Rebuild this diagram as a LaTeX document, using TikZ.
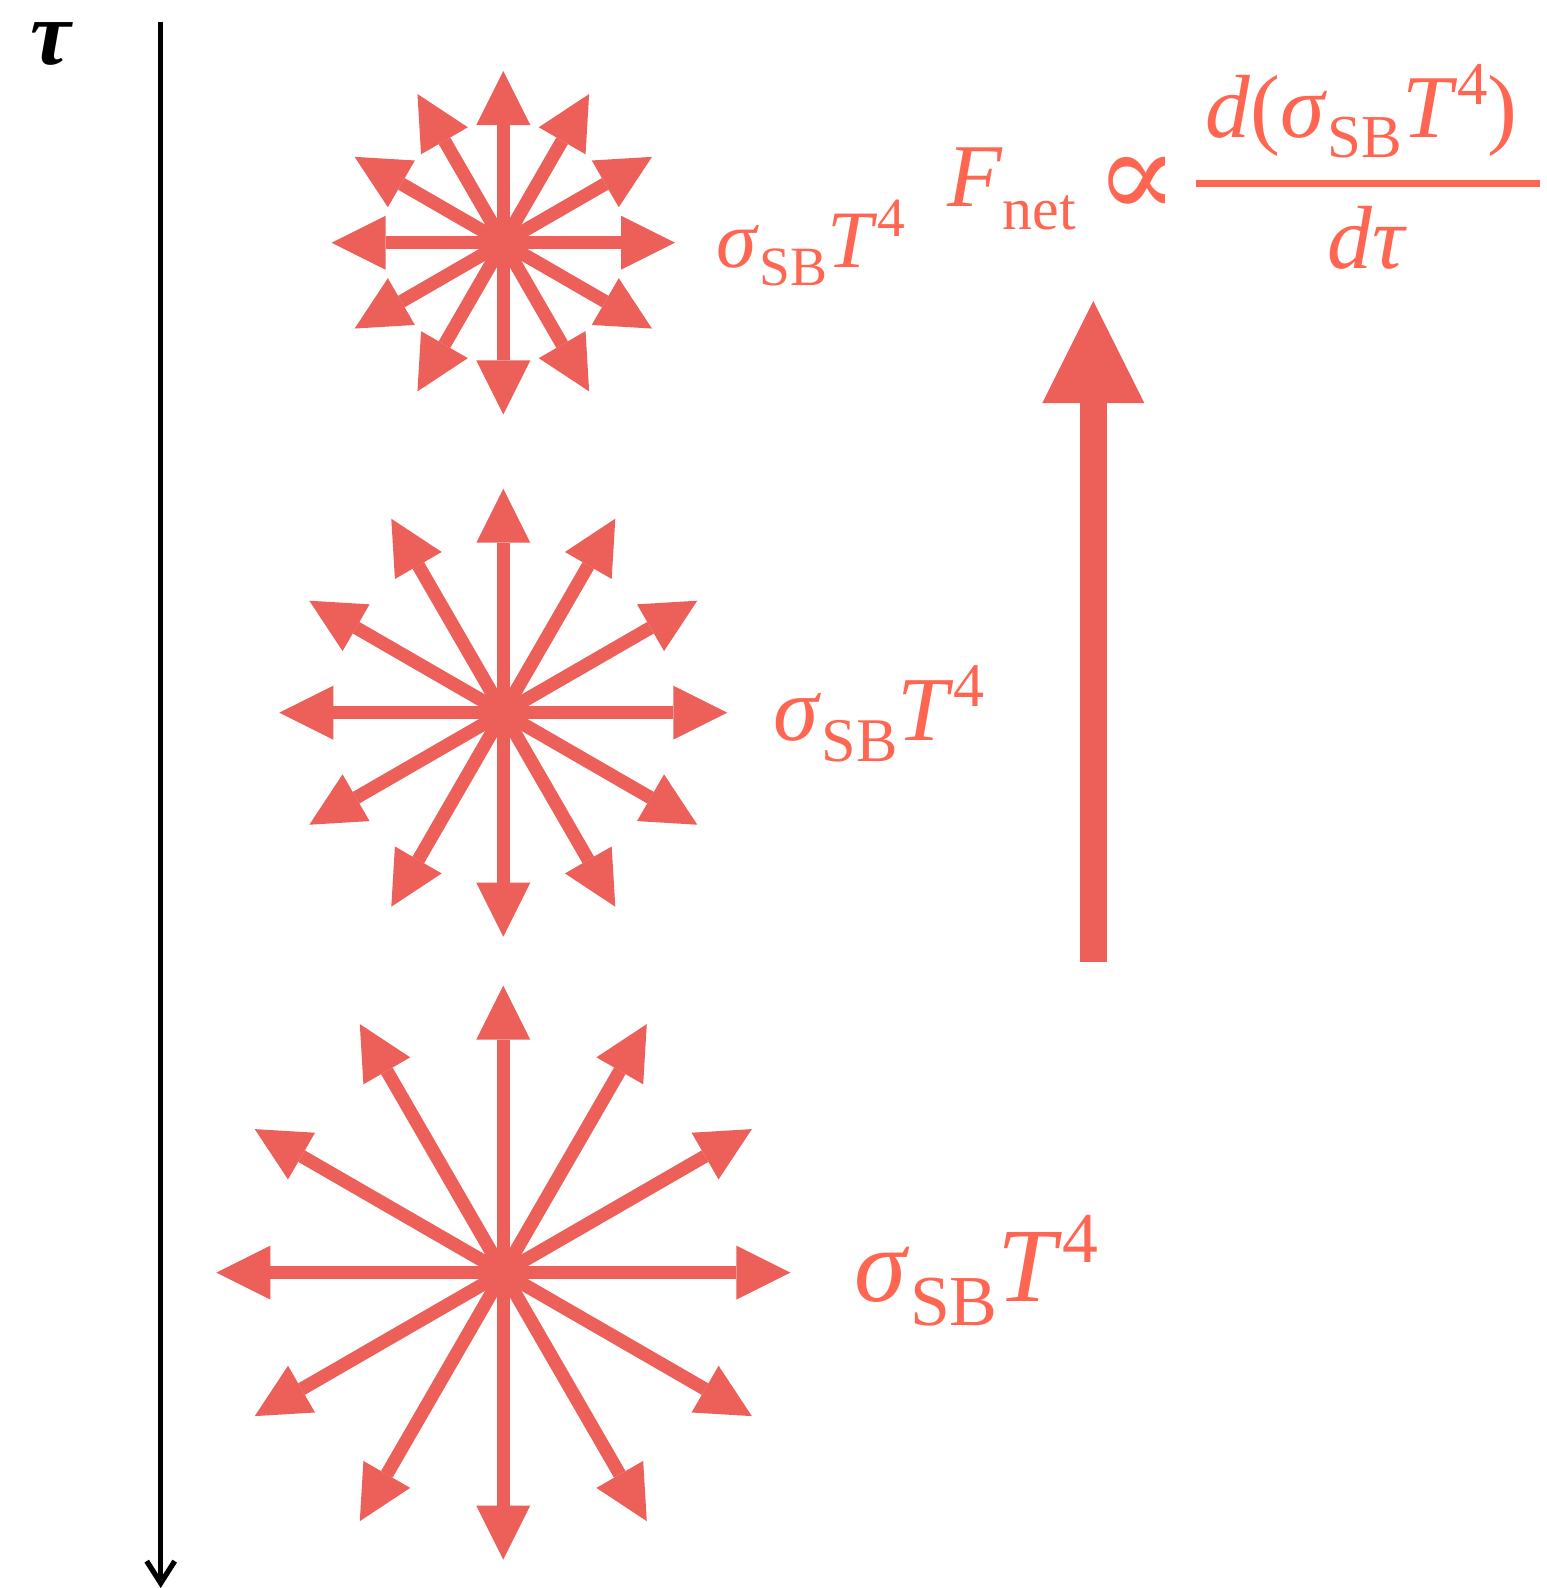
\documentclass[tikz,border=0pt]{standalone}
\usepackage{fontspec}
\setmainfont{Liberation Serif}
\newfontfamily\symbfont{DejaVu Serif}
\usepackage{tikz}
\usetikzlibrary{arrows.meta, positioning}
\definecolor{raysred}{RGB}{236,96,89}
\definecolor{labelred}{RGB}{255,102,82}
\newcommand{\sbterm}{\textit{σ}\raisebox{-0.23em}{\scalebox{0.68}{SB}}\textit{T}\raisebox{0.37em}{\scalebox{0.68}{4}}}

\begin{document}
\begin{tikzpicture}[x=0.1mm, y=-0.1mm,
    ray/.style={raysred, line width=1.33mm, -{Triangle[length=5.4mm, width=5.4mm, line width=0pt]}},
    fluxarrow/.style={raysred, line width=2.67mm, -{Triangle[length=10.2mm, width=10.2mm, line width=0pt]}},
    lbl/.style={labelred, inner sep=0pt, anchor=base west}]
  \useasboundingbox (0,0) rectangle (1547,1588);

  % optical depth axis
  \node[inner sep=0pt, text height=0.5em, anchor=base west, font=\fontsize{26}{30}\selectfont\bfseries\itshape] (tau) at (30,64) {τ};
  \coordinate (axistop) at (160.7,21.7);
  \coordinate (axisbot) at (160.7,1588);
  \draw[line width=1.5pt, -{Straight Barb[length=2.2mm, width=2.8mm]}] (axistop) -- (axisbot);

  % emitting layers
  \foreach \name/\cy/\r in {upper/242.7/171.7, middle/712.7/224, lower/1272.6/287}{
    \coordinate (\name) at (503.3,\cy);
    \foreach \a in {0,30,...,330}
      \draw[ray] (\name) -- ++(\a:\r);
  }
  \node[lbl, font=\fontsize{23.2}{28}\selectfont] (upperlbl) at (716,267) {\sbterm};
  \node[lbl, font=\fontsize{26}{31}\selectfont] (middlelbl) at (773,740) {\sbterm};
  \node[lbl, font=\fontsize{30}{36}\selectfont] (lowerlbl) at (854,1301.7) {\sbterm};

  % net flux
  \coordinate (fluxbot) at (1093.3,962.3);
  \coordinate (fluxtop) at (1093.3,301);
  \draw[fluxarrow] (fluxbot) -- (fluxtop);

  \node[lbl, font=\fontsize{25.5}{30}\selectfont] (fnet) at (946.7,206) {\textit{F}\raisebox{-0.26em}{\scalebox{0.67}{net}}};
  \node[labelred, inner sep=0pt, font=\symbfont\fontsize{35}{40}\selectfont] (prop) at (1137.5,187) {∝};
  \node[lbl, font=\fontsize{25.5}{30}\selectfont] (numer) at (1205,137.3) {\textit{d}(\sbterm)};
  \draw[labelred, line width=0.67mm] (1196,183.3) -- (1540,183.3);
  \node[lbl, font=\fontsize{25.5}{30}\selectfont] (denom) at (1326.7,268.3) {\textit{dτ}};
\end{tikzpicture}
\end{document}
